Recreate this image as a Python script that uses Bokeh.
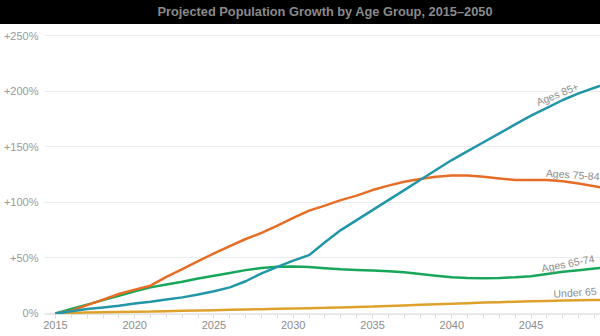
import numpy as np
from bokeh.plotting import figure
from bokeh.layouts import column
from bokeh.models import FixedTicker, ColumnDataSource, Range1d, Div
from bokeh.core.properties import value
from bokeh.embed import file_html
from bokeh.resources import INLINE

# ---------------- data ----------------
years = list(range(2015, 2051))

ages_85_plus = [0, 2, 4, 5.5, 7, 9, 10.5, 12.5, 14.5, 17,
                20, 23.5, 29, 36, 42, 47.5, 52.5, 64, 75, 84,
                93, 102, 111, 120, 129, 138, 146, 154, 162, 170,
                178, 185, 192, 198, 203, 208]

ages_75_84 = [0, 2.5, 7.5, 12.5, 17.5, 21.5, 25, 33, 40, 47,
              54, 60.5, 67, 72.5, 79, 86, 92.5, 97, 102, 106,
              111, 115, 118.5, 121, 123, 124, 124, 123, 121.5, 120,
              120, 120, 119, 117, 114.5, 112]

ages_65_74 = [0, 4, 8, 12, 16, 20, 23.5, 26, 28.5, 31.5,
              34, 36.5, 39, 41, 42, 42.3, 41.8, 40.8, 39.8, 39.2,
              38.6, 38, 37, 35.5, 34, 32.5, 32, 31.8, 32, 32.5,
              33.5, 35.5, 37.5, 39, 40.5, 41.5]

under_65 = [0, 0.4, 0.8, 1.1, 1.4, 1.6, 1.8, 2.1, 2.4, 2.7,
            3.0, 3.3, 3.6, 3.9, 4.2, 4.5, 4.8, 5.1, 5.5, 5.9,
            6.3, 6.8, 7.3, 7.8, 8.3, 8.8, 9.3, 9.8, 10.2, 10.6,
            11.0, 11.3, 11.6, 11.9, 12.1, 12.3]

series_names = ["Ages 85+", "Ages 75-84", "Ages 65-74", "Under 65"]
series_values = [ages_85_plus, ages_75_84, ages_65_74, under_65]

x_major_ticks = [2015, 2020, 2025, 2030, 2035, 2040, 2045, 2050]
y_major_ticks = [0, 50, 100, 150, 200, 250]
y_tick_labels = ["0%", "+50%", "+100%", "+150%", "+200%", "+250%"]

title_text = "Projected Population Growth by Age Group, 2015\u20132050"

# ---------------- styles ----------------
colors = ["#2196a8", "#e66d25", "#17a65a", "#dea22c"]
label_years = [2046.8, 2047.6, 2047.4, 2047.8]
label_angles_deg = [22, -4, 11, 4]
FONT = "Liberation Sans"

# ---------------- title bar (HTML div) ----------------
title_html = (
    '<div style="width:600px;height:24px;line-height:24px;text-align:center;'
    'padding-left:50px;box-sizing:border-box;background:#000;color:#8a8a8a;'
    'font-family:\'Liberation Sans\';font-weight:bold;font-size:12.8px;'
    'white-space:nowrap;margin:0;">' + title_text + '</div>'
)
t = Div(text=title_html, width=600, height=24, margin=0,
        styles={"background-color": "black", "margin": "0", "padding": "0"})

# ---------------- main chart ----------------
p = figure(width=600, height=312, output_backend="svg", toolbar_location=None,
           x_range=Range1d(2014.31, 2049.38), y_range=Range1d(-0.9, 259),
           min_border_left=43, min_border_right=0, min_border_top=1,
           min_border_bottom=22)
p.outline_line_color = None
p.background_fill_color = "white"
p.border_fill_color = "white"

p.xaxis.ticker = FixedTicker(ticks=x_major_ticks,
                             minor_ticks=list(range(2014, 2051)))
p.yaxis.ticker = FixedTicker(ticks=y_major_ticks, minor_ticks=[])
p.yaxis.major_label_overrides = {v: s for v, s in zip(y_major_ticks, y_tick_labels)}

p.xgrid.visible = False
p.ygrid.grid_line_color = "#ececec"
p.ygrid.grid_line_width = 1

p.yaxis.axis_line_color = None
p.yaxis.major_tick_line_color = None
p.yaxis.minor_tick_line_color = None
p.yaxis.major_tick_in = 0
p.yaxis.major_tick_out = 0
p.yaxis.minor_tick_in = 0
p.yaxis.minor_tick_out = 0
p.yaxis.major_label_standoff = 6
p.yaxis.major_label_text_font = FONT
p.yaxis.major_label_text_font_size = "11px"
p.yaxis.major_label_text_color = "#999999"

p.xaxis.axis_line_color = "#e4e4e4"
p.xaxis.major_tick_line_color = "#dddddd"
p.xaxis.minor_tick_line_color = "#dddddd"
p.xaxis.major_tick_in = 0
p.xaxis.major_tick_out = 4
p.xaxis.minor_tick_in = 0
p.xaxis.minor_tick_out = 4
p.xaxis.major_label_standoff = 2
p.xaxis.major_label_text_font = FONT
p.xaxis.major_label_text_font_size = "11px"
p.xaxis.major_label_text_color = "#8c8c8c"

for name, vals, col in reversed(list(zip(series_names, series_values, colors))):
    p.line(years, vals, line_color=col, line_width=2.5)

lab_y = [float(np.interp(xv, years, vals)) for xv, vals in zip(label_years, series_values)]
src = ColumnDataSource(dict(x=label_years, y=lab_y, text=series_names,
                            angle=[np.deg2rad(a) for a in label_angles_deg]))
p.text(x="x", y="y", text="text", angle="angle", source=src,
       text_align="center", text_baseline="bottom", y_offset=-2,
       text_font=value(FONT), text_font_size="10.5px", text_color="#8c8c8c")

layout = column(t, p, spacing=0)
open("out.html", "w").write(file_html(layout, INLINE))
